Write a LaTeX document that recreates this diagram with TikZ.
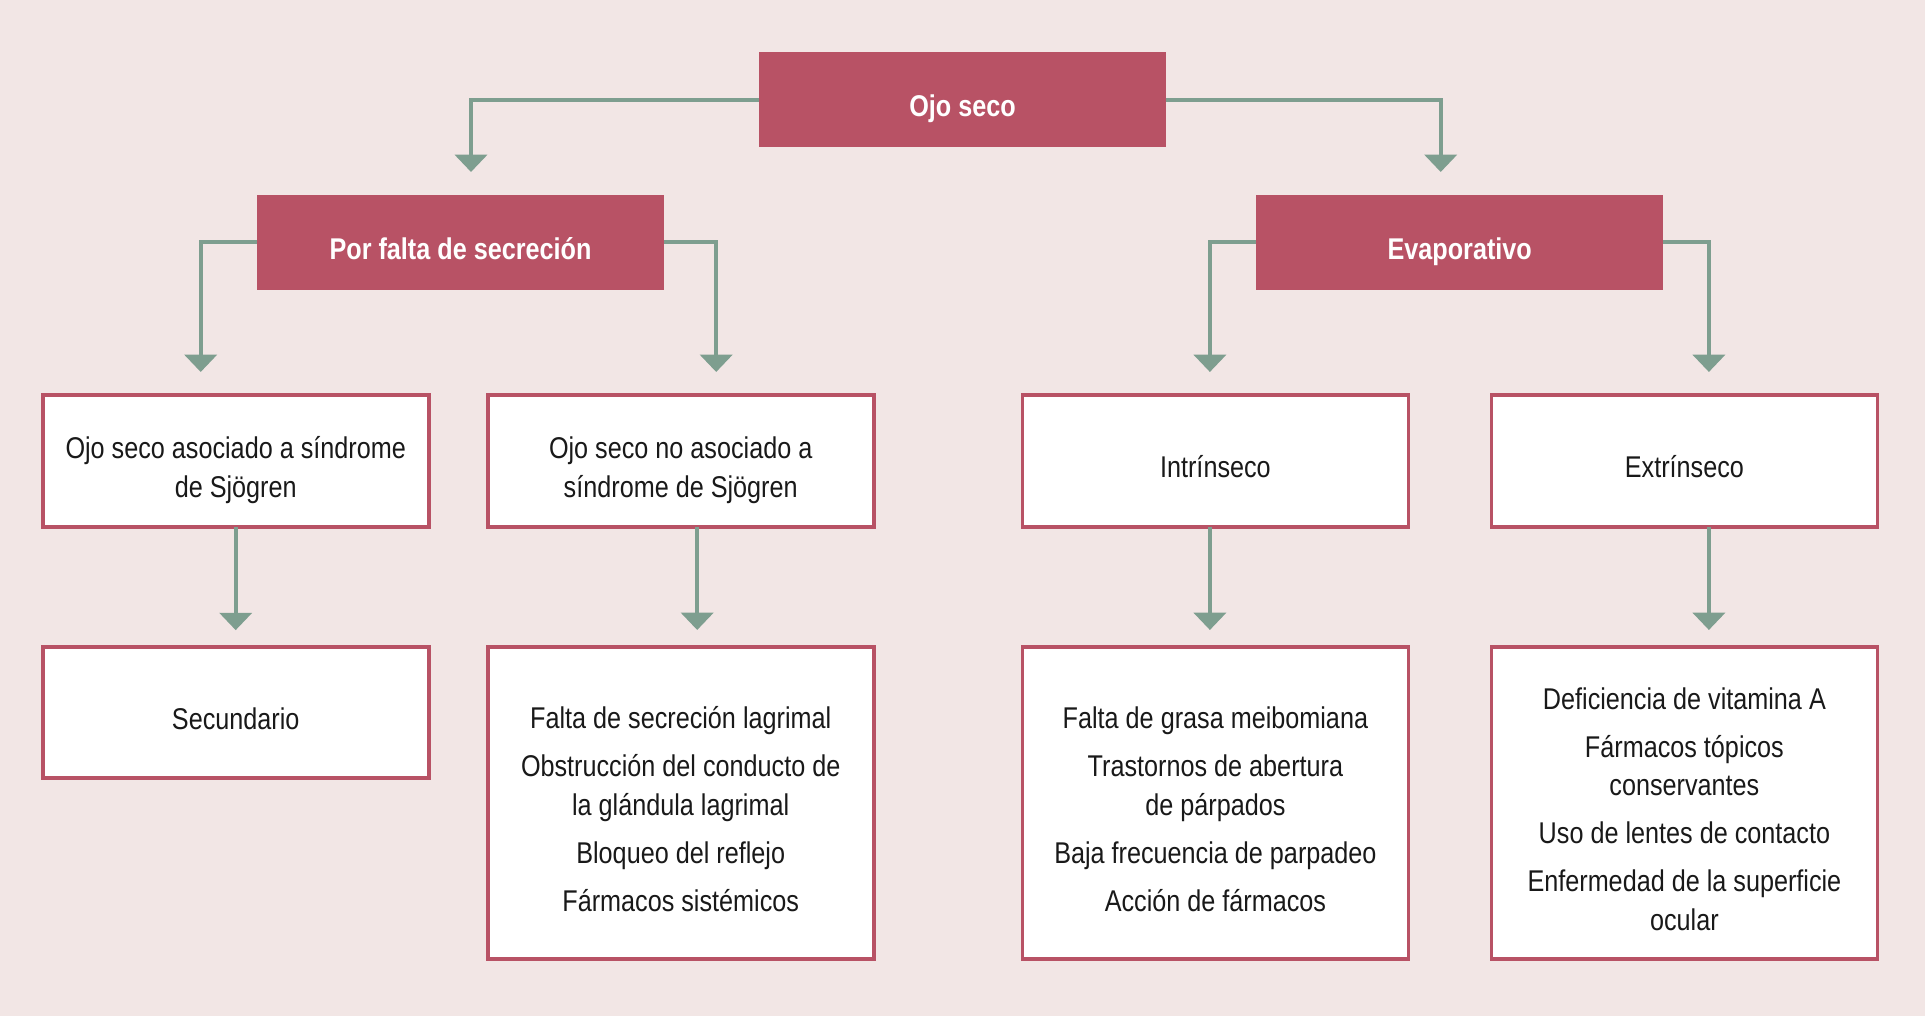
\documentclass[tikz,border=0pt]{standalone}
\usepackage{fontspec}
\setmainfont{Liberation Sans}[FakeStretch=0.84]
\usepackage{xcolor}
\usetikzlibrary{arrows.meta,positioning,calc}

\definecolor{fondo}{HTML}{F2E6E5}
\definecolor{rojo}{HTML}{B85265}
\definecolor{verde}{HTML}{7E9E8F}

\newcommand{\tope}{\rule{0pt}{31.3pt}}

\begin{document}
\begin{tikzpicture}[x=0.75pt, y=-0.75pt, outer sep=0pt,
        every node/.style={inner sep=2pt, outer sep=0pt,
            execute at begin node={\rule{0pt}{31.3pt}},
            execute at end node={\rule[-6pt]{0pt}{0pt}}}]
        \tikzset{
            titulo/.style={fill=rojo, text=white, font=\fontsize{22.5}{28.75}\selectfont\bfseries,
                minimum width=305.25pt, minimum height=71.25pt, align=center},
            caja/.style={draw=rojo, line width=2.8pt, fill=white, text=black!90,
                font=\fontsize{22.5}{28.75}\selectfont, minimum width=289.5pt, align=center},
            arr/.style={draw=verde, line width=3pt, -{Triangle[width=24pt, length=13pt]}}
        }

        % fondo y margenes
        \fill[fondo] (0,0) rectangle (1925,1016);

        \node[titulo] (ojo) at (962.5,100) {Ojo seco};
        \node[titulo] (falta) at (460.5,242.5) {Por falta de secreción};
        \node[titulo] (evap) at (1459.7,242.5) {Evaporativo};

        \node[caja, minimum height=99pt] (sjA) at (235.7,461) {\tope Ojo seco asociado a síndrome\\de Sjögren};
        \node[caja, minimum height=99pt] (sjB) at (680.7,461) {\tope Ojo seco no asociado a\\síndrome de Sjögren};
        \node[caja, minimum height=99pt] (intr) at (1215.4,461) {Intrínseco};
        \node[caja, minimum height=99pt] (extr) at (1684.4,461) {Extrínseco};

        \node[caja, minimum height=98pt] (sec) at (235.7,712.5) {Secundario};
        \node[caja, minimum height=234pt] (lagr) at (680.7,803) {\tope Falta de secreción lagrimal\\[7.25pt]
            Obstrucción del conducto de\\la glándula lagrimal\\[7.25pt]
            Bloqueo del reflejo\\[7.25pt]
            Fármacos sistémicos};
        \node[caja, minimum height=234pt] (meib) at (1215.4,803) {\tope Falta de grasa meibomiana\\[7.25pt]
            Trastornos de abertura\\de párpados\\[7.25pt]
            Baja frecuencia de parpadeo\\[7.25pt]
            Acción de fármacos};
        \node[caja, minimum height=234pt] (vita) at (1684.4,803) {\tope Deficiencia de vitamina A\\[7.25pt]
            Fármacos tópicos\\conservantes\\[7.25pt]
            Uso de lentes de contacto\\[7.25pt]
            Enfermedad de la superficie\\ocular};

        \draw[arr] (ojo.west) -| ($(falta.north)+(10.5,-23)$);
        \draw[arr] (ojo.east) -| ($(evap.north)+(-19,-23)$);
        \draw[arr] (falta.west) -| ($(sjA.north)+(-35,-23)$);
        \draw[arr] (falta.east) -| ($(sjB.north)+(35.5,-23)$);
        \draw[arr] (evap.west) -| ($(intr.north)+(-5.5,-23)$);
        \draw[arr] (evap.east) -| ($(extr.north)+(24.5,-23)$);

        \draw[arr] (sjA.south) -- ($(sec.north)+(0,-17)$);
        \draw[arr] ($(sjB.south)+(16.5,0)$) -- ($(lagr.north)+(16.5,-17)$);
        \draw[arr] ($(intr.south)+(-5.5,0)$) -- ($(meib.north)+(-5.5,-17)$);
        \draw[arr] ($(extr.south)+(24.5,0)$) -- ($(vita.north)+(24.5,-17)$);
    \end{tikzpicture}
\end{document}
